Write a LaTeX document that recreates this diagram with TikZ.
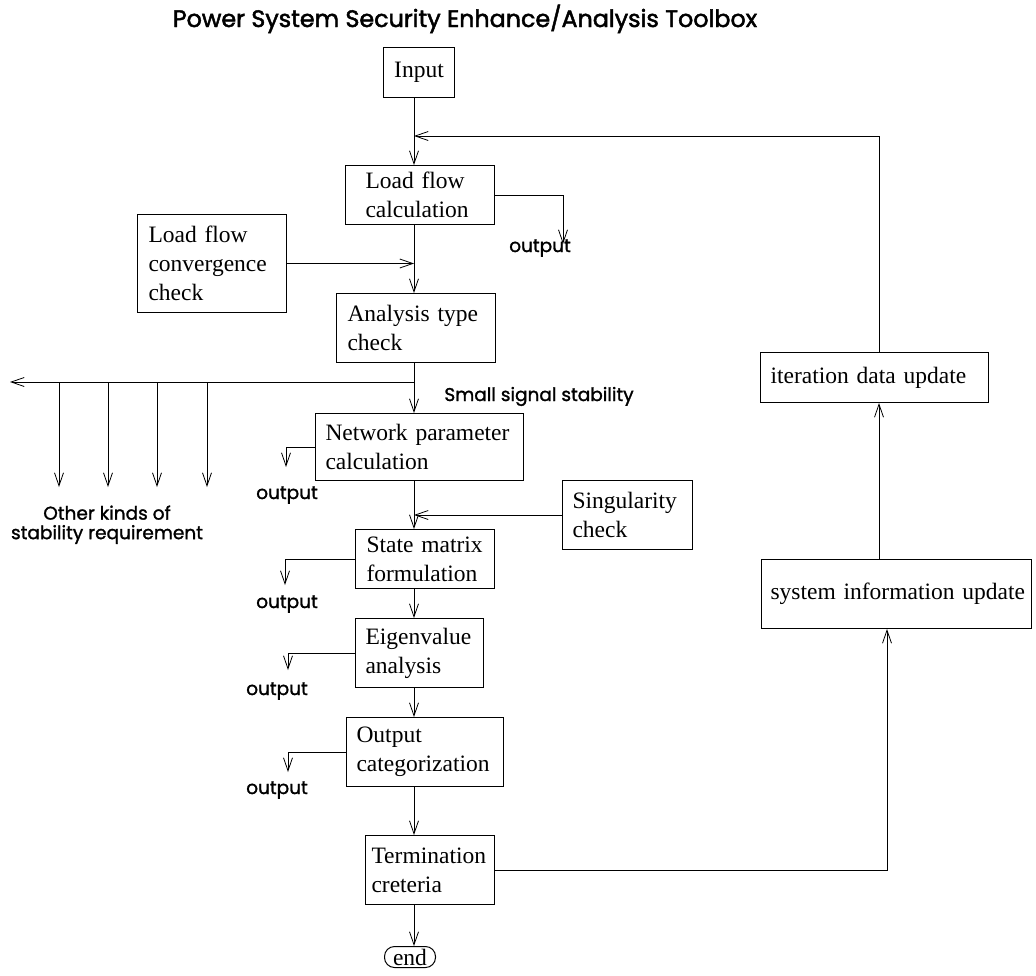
\documentclass[tikz,border=0pt]{standalone}
\usepackage{fontspec}
\setmainfont{Liberation Serif}
\newfontfamily\labelfont[FakeBold=1.4]{Poppins}
\newfontfamily\titlefont[FakeBold=2]{Poppins}
\usetikzlibrary{arrows.meta}
\usetikzlibrary{positioning}

\begin{document}
\begin{tikzpicture}[x=1pt,y=-1pt,
            line width=1pt,
            arr/.style = {-{Straight Barb[length=13pt,width=9pt,line width=0.8pt]}},
            box/.style = {draw,align=left,anchor=north west,inner ysep=0pt,
                font=\fontsize{23.5}{29}\selectfont},
            lbl/.style = {font=\labelfont\fontsize{18.5}{19.5}\selectfont,
                align=center,inner sep=0pt}]
            \useasboundingbox (0,0) rectangle (1036,975);
            \coordinate (spine) at (414,0);
            \coordinate (rx) at (879,0);
            \coordinate (tx) at (887,0);
            % title
            \node[lbl,anchor=base,font=\titlefont\fontsize{23.8}{26}\selectfont] (ttl) at (465,27)
                {Power System Security Enhance/Analysis Toolbox};
            % main chain of boxes
            \node[box,align=center,inner xsep=0pt,minimum width=71pt,minimum height=50pt] (inp) at (383,47) {Input};
            \node[box,text width=109pt,inner xsep=20pt,minimum height=59pt] (lfc) at (345,165) {Load flow\\calculation};
            \node[box,text width=127pt,inner xsep=11pt,minimum height=98pt] (lfcc) at (137,214) {Load flow\\convergence\\check};
            \node[box,text width=137pt,inner xsep=11pt,minimum height=69pt] (atc) at (336,293) {Analysis type\\check};
            \node[box,text width=188pt,inner xsep=10pt,minimum height=67pt] (npc) at (315,413) {Network parameter\\calculation};
            \node[box,text width=110pt,inner xsep=10pt,minimum height=69pt] (sgc) at (562,480) {Singularity\\check};
            \node[box,text width=117pt,inner xsep=11pt,minimum height=59pt] (smf) at (355,529) {State matrix\\formulation};
            \node[box,text width=108pt,inner xsep=10pt,minimum height=69pt] (eva) at (355,618) {Eigenvalue\\analysis};
            \node[box,text width=137pt,inner xsep=10pt,minimum height=69pt] (ocz) at (346,717) {Output\\categorization};
            \node[box,text width=117pt,inner xsep=6pt,minimum height=69pt] (tmc) at (365,835) {Termination\\creteria};
            \node[draw,rounded corners=10pt,minimum width=51pt,minimum height=21pt,inner sep=0pt,
                font=\fontsize{23.5}{29}\selectfont] (stop) at (410,957) {end};
            % update loop
            \node[box,text width=208pt,inner xsep=10pt,minimum height=50pt] (idu) at (760,352) {iteration data update};
            \node[box,text width=260pt,inner xsep=5pt,minimum height=69pt] (siu) at (761,559) {\hspace{4pt}system information update};
            % labels
            \node[lbl,anchor=base] (ssl) at (539,401) {Small signal stability};
            \node[lbl,anchor=north] (okl) at (107,505) {Other kinds of\\stability requirement};
            \node[lbl,anchor=base] (out1) at (540,252) {output};
            \node[lbl,anchor=base] (out2) at (287,499) {output};
            \node[lbl,anchor=base] (out3) at (287,608) {output};
            \node[lbl,anchor=base] (out4) at (277,695) {output};
            \node[lbl,anchor=base] (out5) at (277,794) {output};
            % output arrow ends
            \coordinate (o1) at (563,244);
            \coordinate (o2) at (286,467);
            \coordinate (o3) at (285,585);
            \coordinate (o4) at (288,670);
            \coordinate (o5) at (288,772);
            \coordinate (fb) at (414,136);
            \coordinate (br) at (414,382);
            \coordinate (brl) at (10,382);
            % down the spine
            \draw[arr] (inp.south -| spine) -- (lfc.north -| spine);
            \draw[arr] (lfc.south -| spine) -- (atc.north -| spine);
            \draw[arr] (atc.south -| spine) -- (npc.north -| spine);
            \draw[arr] (npc.south -| spine) -- (smf.north -| spine);
            \draw[arr] (smf.south -| spine) -- (eva.north -| spine);
            \draw[arr] (eva.south -| spine) -- (ocz.north -| spine);
            \draw[arr] (ocz.south -| spine) -- (tmc.north -| spine);
            \draw[arr] (tmc.south -| spine) -- (stop.north -| spine);
            % side inputs
            \draw[arr] (lfcc.east) -- (lfcc.east -| spine);
            \draw[arr] (sgc.west) -- (sgc.west -| spine);
            % outputs
            \draw[arr] (lfc.east) -| (o1);
            \draw[arr] (npc.west) -| (o2);
            \draw[arr] (smf.west) -| (o3);
            \draw[arr] (eva.west) -| (o4);
            \draw[arr] (ocz.west) -| (o5);
            % other stability branches
            \draw[arr] (br) -- (brl);
            \foreach \x [count=\i] in {59,108,157,207} {
                \coordinate (k\i) at (\x,382);
                \draw[arr] (k\i) -- ++(0,105);
            }
            % iteration loop
            \draw[arr] (tmc.east) -| (siu.south -| tx);
            \draw[arr] (siu.north -| rx) -- (idu.south -| rx);
            \draw[arr] (idu.north -| rx) |- (fb);
        \end{tikzpicture}
\end{document}
